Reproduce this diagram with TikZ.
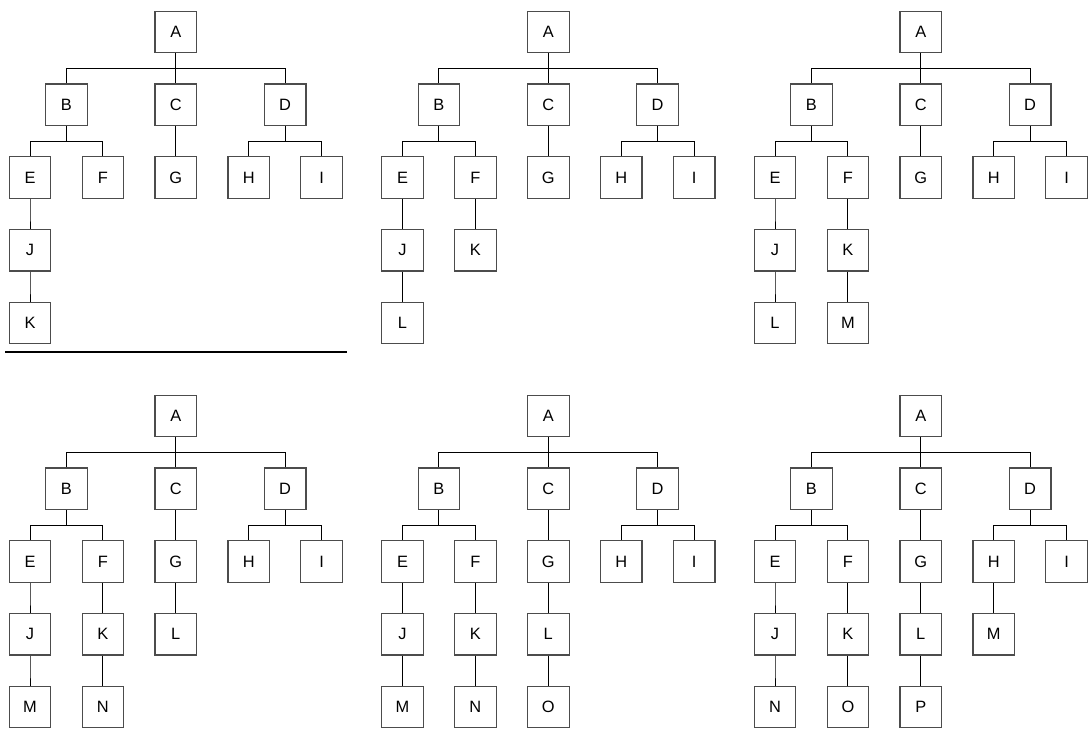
\documentclass[tikz,border=0pt]{standalone}
\usepackage{fontspec}
\setmainfont{Liberation Sans}
\usetikzlibrary{calc}
\tikzset{
  box/.style={draw=black!70, line width=0.6pt, minimum size=20.8pt, inner sep=0pt,
    font=\fontsize{8.2}{10}\selectfont},
  link/.style={line width=0.5pt, black},
  sepln/.style={line width=1pt, black},
}
% grid in pixels: column i, row j
\newcommand{\cx}[1]{30+72.9*(#1)}
\newcommand{\ry}[1]{32+72.75*(#1)}
\newcommand{\nd}[4]{\node[box] (#1) at ({\cx{#2}},{\ry{#3}}) {#4};}
\newcommand{\lk}[2]{\draw[link] (#1.south) -- ++(0,15.5) -| (#2.north);}

\begin{document}
\begin{tikzpicture}[x=0.5pt, y=-0.5pt]
    \useasboundingbox (0,0) rectangle (1089,729);
    % upper three levels, the same in all six trees
    \foreach \tr/\dx/\dy in {1/0/0, 2/372.5/0, 3/745/0, 4/0/384, 5/372.5/384, 6/745/384} {
      \begin{scope}[shift={(\dx,\dy)}]
        \foreach \nm/\col/\row in {A/2/0, B/0.5/1, C/2/1, D/3.5/1, E/0/2, F/1/2, G/2/2, H/3/2, I/4/2} {
          \nd{t\tr\nm}{\col}{\row}{\nm}
        }
      \end{scope}
      \foreach \p/\q in {A/B, A/C, A/D, B/E, B/F, C/G, D/H, D/I} {
        \lk{t\tr\p}{t\tr\q}
      }
    }
    % tree 1
    \nd{t1J}{0}{3}{J}
    \nd{t1K}{0}{4}{K}
    \lk{t1E}{t1J} \lk{t1J}{t1K}
    \draw[sepln] (5,352) -- (347,352);
    % tree 2
    \begin{scope}[shift={(372.5,0)}]
      \nd{t2J}{0}{3}{J} \nd{t2K}{1}{3}{K}
      \nd{t2L}{0}{4}{L}
    \end{scope}
    \lk{t2E}{t2J} \lk{t2F}{t2K} \lk{t2J}{t2L}
    % tree 3
    \begin{scope}[shift={(745,0)}]
      \nd{t3J}{0}{3}{J} \nd{t3K}{1}{3}{K}
      \nd{t3L}{0}{4}{L} \nd{t3M}{1}{4}{M}
    \end{scope}
    \lk{t3E}{t3J} \lk{t3F}{t3K} \lk{t3J}{t3L} \lk{t3K}{t3M}
    % tree 4
    \begin{scope}[shift={(0,384)}]
      \nd{t4J}{0}{3}{J} \nd{t4K}{1}{3}{K} \nd{t4L}{2}{3}{L}
      \nd{t4M}{0}{4}{M} \nd{t4N}{1}{4}{N}
    \end{scope}
    \lk{t4E}{t4J} \lk{t4F}{t4K} \lk{t4G}{t4L} \lk{t4J}{t4M} \lk{t4K}{t4N}
    % tree 5
    \begin{scope}[shift={(372.5,384)}]
      \nd{t5J}{0}{3}{J} \nd{t5K}{1}{3}{K} \nd{t5L}{2}{3}{L}
      \nd{t5M}{0}{4}{M} \nd{t5N}{1}{4}{N} \nd{t5O}{2}{4}{O}
    \end{scope}
    \lk{t5E}{t5J} \lk{t5F}{t5K} \lk{t5G}{t5L}
    \lk{t5J}{t5M} \lk{t5K}{t5N} \lk{t5L}{t5O}
    % tree 6
    \begin{scope}[shift={(745,384)}]
      \nd{t6J}{0}{3}{J} \nd{t6K}{1}{3}{K} \nd{t6L}{2}{3}{L} \nd{t6M}{3}{3}{M}
      \nd{t6N}{0}{4}{N} \nd{t6O}{1}{4}{O} \nd{t6P}{2}{4}{P}
    \end{scope}
    \lk{t6E}{t6J} \lk{t6F}{t6K} \lk{t6G}{t6L} \lk{t6H}{t6M}
    \lk{t6J}{t6N} \lk{t6K}{t6O} \lk{t6L}{t6P}
  \end{tikzpicture}
\end{document}
